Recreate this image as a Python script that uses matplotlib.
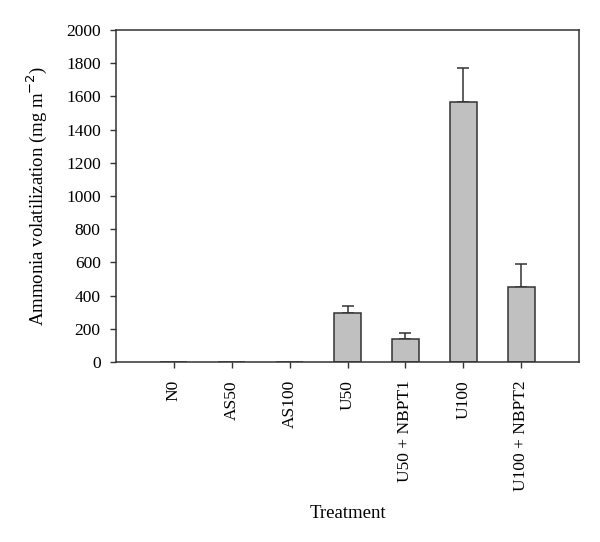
import matplotlib.pyplot as plt
import numpy as np

treatments = ["N0", "AS50", "AS100", "U50", "U50 + NBPT1", "U100", "U100 + NBPT2"]
volatilization = [0, 0, 0, 297, 137, 1564, 454]
errors = [0, 0, 0, 42, 38, 209, 138]

plt.rcParams['font.family'] = ['Liberation Serif', 'DejaVu Serif']
plt.rcParams['font.size'] = 12

fig = plt.figure(figsize=(6.0, 5.42), dpi=100)
ax = fig.add_axes([116 / 600, 1 - 362 / 542, 463 / 600, 332 / 542])

x = np.arange(len(treatments))
edge = '#333333'
ax.bar(x, volatilization, width=0.47, color='#c0c0c0', edgecolor=edge, linewidth=1.1, zorder=2)
# upper error bars only, like the original
ax.errorbar(x[3:], volatilization[3:], yerr=[np.zeros(4), errors[3:]], fmt='none',
            ecolor=edge, elinewidth=1.1, capsize=4.3, capthick=1.1, zorder=1)

ax.set_xlim(-1, 7)
ax.set_ylim(0, 2000)
ax.set_yticks(np.arange(0, 2001, 200))
ax.set_xticks(x)
ax.set_xticklabels(treatments, rotation=90)
ax.tick_params(direction='out', length=4, width=1.0, color=edge, labelsize=12.5)
ax.tick_params(axis='y', pad=7)
ax.tick_params(axis='x', pad=9)

for s in ax.spines.values():
    s.set_color(edge)
    s.set_linewidth(1.1)

ax.set_ylabel("Ammonia volatilization (mg m$^{-2}$)", fontsize=13.5, labelpad=12)
ax.set_xlabel("Treatment", fontsize=13.5, labelpad=10)

plt.savefig("out.png", dpi=100)
